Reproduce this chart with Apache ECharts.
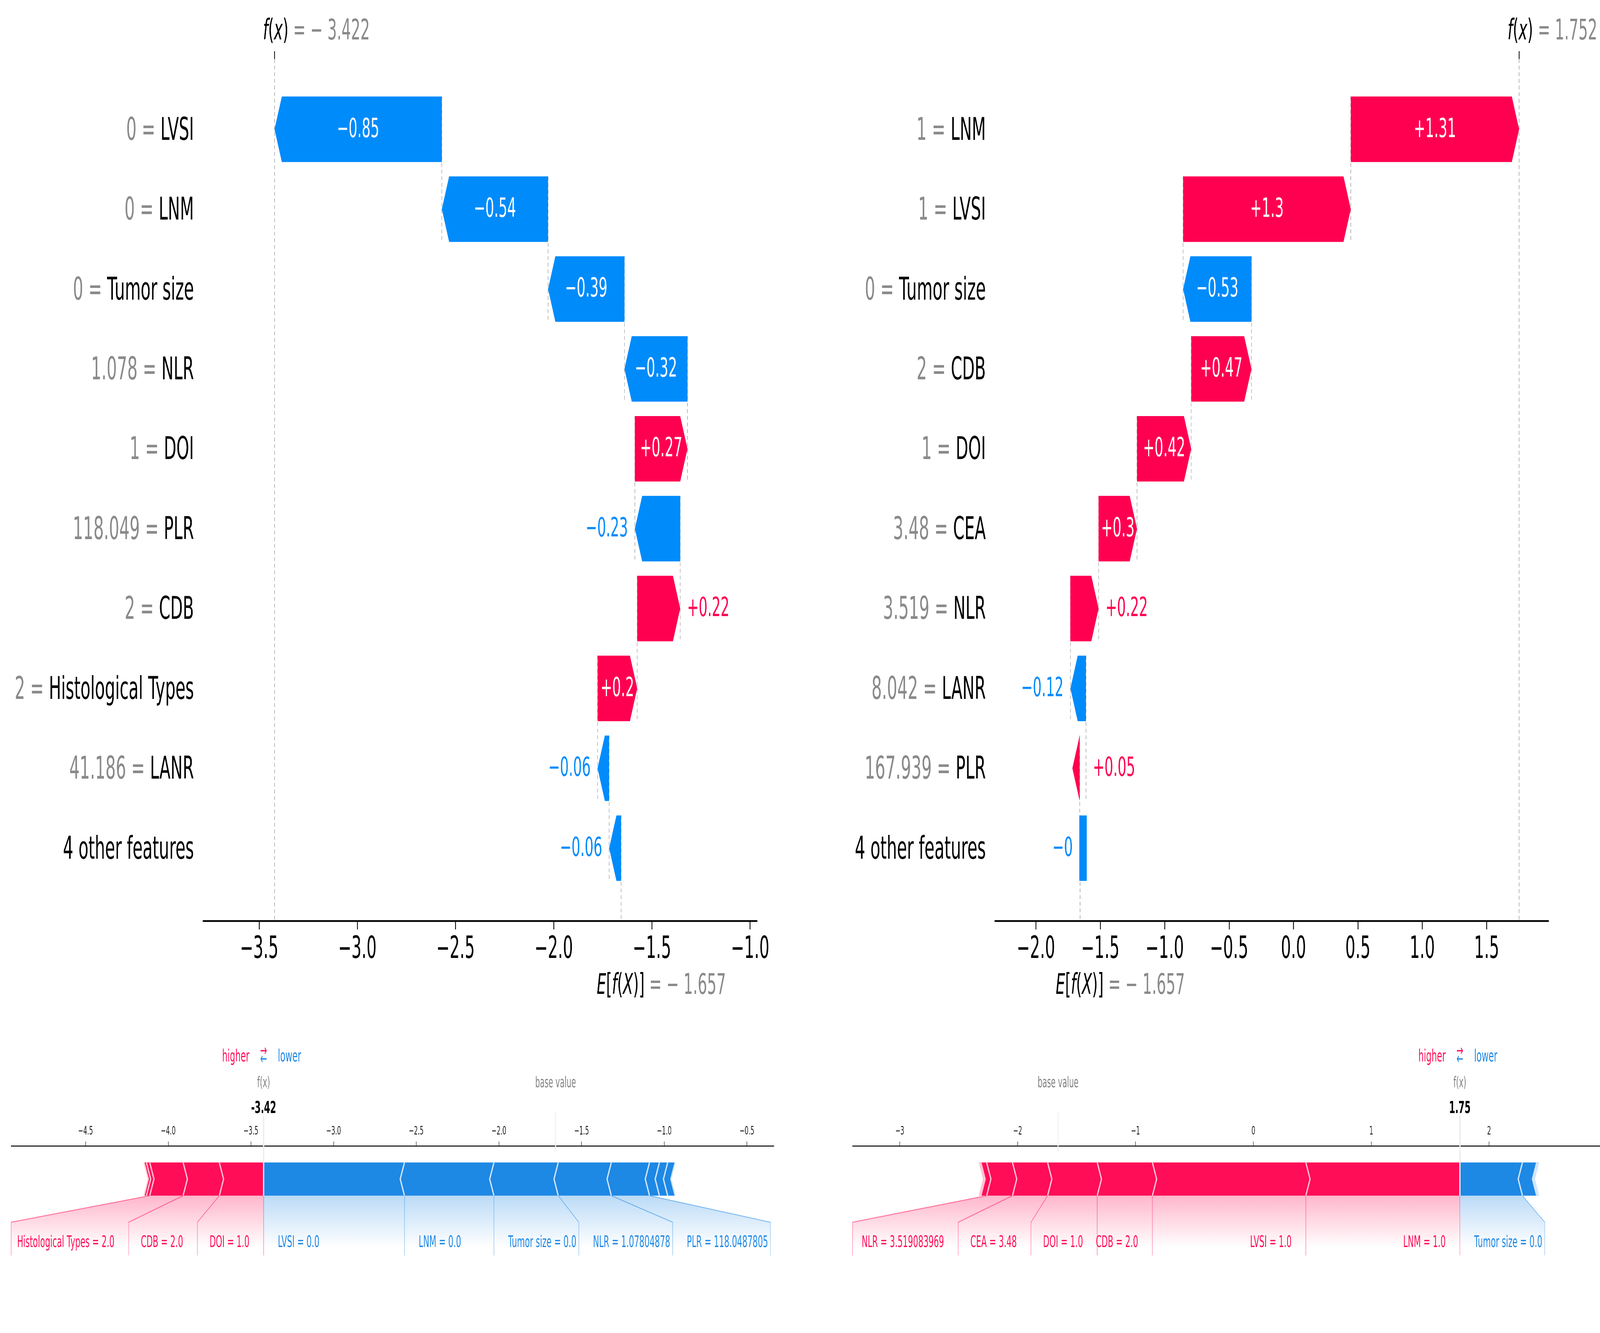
<!DOCTYPE html>
<html lang="en">
<head>
  <meta charset="UTF-8">
  <title>SHAP waterfall and force plots</title>
  <style>
    html, body { margin: 0; padding: 0; background: #fff; overflow: hidden; }
    #chart { width: 7888px; height: 3412px; transform-origin: 0 0; }
  </style>
</head>
<body>
  <div id="chart"></div>
  <script src="https://cdn.jsdelivr.net/npm/echarts@6.0.0/dist/echarts.min.js"></script>
  <script>
    // ---- data ----
    // waterfall, left sample (top row first)
    var wfLeftNames = ['LVSI', 'LNM', 'Tumor size', 'NLR', 'DOI', 'PLR', 'CDB', 'Histological Types', 'LANR', '4 other features'];
    var wfLeftFeat = ['0', '0', '0', '1.078', '1', '118.049', '2', '2', '41.186', ''];
    var wfLeftShap = [-0.852, -0.541, -0.389, -0.321, 0.268, -0.231, 0.219, 0.202, -0.059, -0.061];
    var wfLeftBase = -1.657;
    var wfLeftTicks = [-3.5, -3.0, -2.5, -2.0, -1.5, -1.0];

    // waterfall, right sample
    var wfRightNames = ['LNM', 'LVSI', 'Tumor size', 'CDB', 'DOI', 'CEA', 'NLR', 'LANR', 'PLR', '4 other features'];
    var wfRightFeat = ['1', '1', '0', '2', '1', '3.48', '3.519', '8.042', '167.939', ''];
    var wfRightShap = [1.307, 1.302, -0.531, 0.468, 0.421, 0.298, 0.219, -0.121, 0.049, -0.003];
    var wfRightBase = -1.657;
    var wfRightTicks = [-2.0, -1.5, -1.0, -0.5, 0.0, 0.5, 1.0, 1.5];

    // force plots: segments listed outward from f(x), '' = no label
    var fcLeftRedNames = ['DOI', 'CDB', 'Histological Types', '', ''];
    var fcLeftRedVals = ['1.0', '2.0', '2.0', '', ''];
    var fcLeftRedShap = [0.268, 0.219, 0.202, 0.02, 0.014];
    var fcLeftBlueNames = ['LVSI', 'LNM', 'Tumor size', 'NLR', 'PLR', '', '', ''];
    var fcLeftBlueVals = ['0.0', '0.0', '0.0', '1.07804878', '118.0487805', '', '', ''];
    var fcLeftBlueShap = [0.852, 0.541, 0.389, 0.321, 0.231, 0.06, 0.05, 0.045];
    var fcLeftTicks = [-4.5, -4.0, -3.5, -3.0, -2.5, -2.0, -1.5, -1.0, -0.5];

    var fcRightRedNames = ['LNM', 'LVSI', 'CDB', 'DOI', 'CEA', 'NLR', '', '', ''];
    var fcRightRedVals = ['1.0', '1.0', '2.0', '1.0', '3.48', '3.519083969', '', '', ''];
    var fcRightRedShap = [1.307, 1.302, 0.468, 0.421, 0.298, 0.219, 0.049, 0.008, 0.005];
    var fcRightBlueNames = ['Tumor size', '', '', ''];
    var fcRightBlueVals = ['0.0', '', '', ''];
    var fcRightBlueShap = [0.531, 0.121, 0.01, 0.006];
    var fcRightTicks = [-3, -2, -1, 0, 1, 2];
    var fcBase = -1.657;

    // ---- look ----
    var RED = '#ff0051', BLUE = '#008bfb', FRED = '#ff0d57', FBLUE = '#1e88e5';
    var FONT = 'DejaVu Sans';
    var WF_YMIN = -0.88, WF_YMAX = 9.91, HALF = 0.41, HEAD = 36;
    var FC_YMIN = -0.4, FC_YMAX = 0.15;
    var OFF = 70, RGAP = 60, BGAP = 12, TOL = 16, IND = 21;

    var mctx = document.createElement('canvas').getContext('2d');
    function textWidth(s, size, weight) {
      mctx.font = (weight || 'normal') + ' ' + size + 'px "' + FONT + '"';
      return mctx.measureText(s).width;
    }
    function minus(s) { return s.replace('-', '\u2212'); }
    function fmtShap(v) {
      var s = v.toFixed(2).replace(/0+$/, '').replace(/\.$/, '');
      return v >= 0 ? '+' + s : minus(s);
    }
    function sum(a) { return a.reduce(function (t, x) { return t + x; }, 0); }
    function vline(x, y1, y2, st) {
      return { type: 'line', shape: { x1: x, y1: y1, x2: x, y2: y2 }, style: st };
    }

    function waterfallSeries(gi, names, feat, shap, base, xMin) {
      var n = shap.length, rows = [], cum = base;
      for (var r = n - 1; r >= 0; r--) {
        rows[r] = [r, cum, cum + shap[r], shap[r]];
        cum += shap[r];
      }
      var fx = cum;
      var dash = { stroke: '#a0a0a0', lineWidth: 2.5, lineDash: [10, 7] };

      var connectors = {
        type: 'custom', xAxisIndex: gi, yAxisIndex: gi, z: 1, clip: false, silent: true, data: rows,
        renderItem: function (params, api) {
          var r = api.value(0), s = api.value(1), e = api.value(2);
          var kids = [];
          var x = api.coord([s, r])[0];
          var yEnd = r < n - 1 ? r + 1 + HALF : WF_YMAX;
          kids.push(vline(x, api.coord([s, r - HALF])[1], api.coord([s, yEnd])[1], dash));
          if (r === 0) {
            var top = api.coord([e, WF_YMIN]), bot = api.coord([e, WF_YMAX]);
            kids.push(vline(top[0], top[1], bot[1], dash));
            kids.push(vline(top[0], top[1], top[1] - 20, { stroke: '#000', lineWidth: 3.5 }));
          }
          return { type: 'group', children: kids };
        }
      };

      var bars = {
        type: 'custom', xAxisIndex: gi, yAxisIndex: gi, z: 3, clip: false, silent: true, data: rows,
        renderItem: function (params, api) {
          var r = api.value(0), s = api.value(1), e = api.value(2), v = api.value(3);
          var ps = api.coord([s, r]), pe = api.coord([e, r]);
          var hh = api.size([0, HALF])[1];
          var yt = ps[1] - hh, yb = ps[1] + hh, ym = ps[1];
          var x0 = ps[0], x1 = pe[0], w = Math.abs(x1 - x0), d = v >= 0 ? 1 : -1;
          var pts;
          if (w >= HEAD) {
            pts = [[x0, yt], [x1 - d * HEAD, yt], [x1, ym], [x1 - d * HEAD, yb], [x0, yb]];
          } else if (v >= 0) {
            // arrows shorter than the head come out flipped in the source plot
            pts = [[x0, yt], [x0, yb], [x0 - HEAD, ym]];
          } else {
            pts = [[x0 - 0.1 * HEAD, yt], [x0 + 0.9 * HEAD, yt], [x0 + 0.9 * HEAD, yb], [x0 - 0.1 * HEAD, yb]];
          }
          var txt = fmtShap(v);
          var lab;
          if (textWidth(txt, 68) * 1.11 <= w) lab = { x: (x0 + x1) / 2, align: 'center', fill: '#fff' };
          else if (v >= 0) lab = { x: x1 + 34, align: 'left', fill: RED };
          else lab = { x: x1 - 34, align: 'right', fill: BLUE };
          return {
            type: 'group', children: [
              { type: 'polygon', shape: { points: pts }, style: { fill: v >= 0 ? RED : BLUE } },
              { type: 'text', x: lab.x, y: ym + 2, style: { text: txt, fill: lab.fill, fontSize: 68, fontFamily: FONT, align: lab.align, verticalAlign: 'middle' } }
            ]
          };
        }
      };

      var labels = {
        type: 'custom', xAxisIndex: gi, yAxisIndex: gi, z: 3, clip: false, silent: true, data: rows,
        renderItem: function (params, api) {
          var r = api.value(0);
          var p = api.coord([xMin, r]);
          var t = feat[r] ? '{g|' + feat[r] + ' = }{k|' + names[r] + '}' : '{k|' + names[r] + '}';
          return {
            type: 'text', x: p[0] - 45, y: p[1] + 6,
            style: {
              text: t, align: 'right', verticalAlign: 'middle', fontSize: 80, fontFamily: FONT,
              rich: {
                g: { fill: '#8a8a8a', fontSize: 80, fontFamily: FONT },
                k: { fill: '#000', fontSize: 80, fontFamily: FONT }
              }
            }
          };
        }
      };

      var mathRich = {
        i: { fill: '#000', fontSize: 73, fontFamily: FONT, fontStyle: 'italic' },
        u: { fill: '#000', fontSize: 73, fontFamily: FONT },
        g: { fill: '#8a8a8a', fontSize: 73, fontFamily: FONT }
      };
      function numTxt(v) { return v < 0 ? '\u2212 ' + Math.abs(v).toFixed(3) : v.toFixed(3); }
      var annot = {
        type: 'custom', xAxisIndex: gi, yAxisIndex: gi, z: 3, clip: false, silent: true, data: [[fx, base]],
        renderItem: function (params, api) {
          var top = api.coord([api.value(0), WF_YMIN]);
          var bot = api.coord([api.value(1), WF_YMAX]);
          return {
            type: 'group', children: [
              { type: 'text', x: top[0] - 57, y: top[1] - 69, style: { text: '{i|f}{u|(}{i|x}{u|)}{g| = ' + numTxt(fx) + '}', rich: mathRich, align: 'left', verticalAlign: 'middle', fontSize: 73, fontFamily: FONT } },
              { type: 'text', x: bot[0] - 120, y: bot[1] + 168, style: { text: '{i|E}{u|[}{i|f}{u|(}{i|X}{u|)]}{g| = ' + numTxt(base) + '}', rich: mathRich, align: 'left', verticalAlign: 'middle', fontSize: 73, fontFamily: FONT } }
            ]
          };
        }
      };
      return [connectors, bars, labels, annot];
    }

    function forceSeries(gi, base, redNames, redVals, redShap, blueNames, blueVals, blueShap) {
      var out = base + sum(redShap) - sum(blueShap);
      return {
        type: 'custom', xAxisIndex: gi, yAxisIndex: gi, z: 2, clip: false, silent: true, data: [[out, 0]],
        renderItem: function (params, api) {
          var X = function (v) { return api.coord([v, 0])[0]; };
          var Y = function (d) { return api.coord([out, d])[1]; };
          var cs = params.coordSys, minPx = cs.x, maxPx = cs.x + cs.width;
          var outPx = X(out), y0 = Y(0), yt = Y(0.1), ym = Y(0.05), yk = Y(-0.08), yl = Y(-0.18), ys = Y(-0.2);
          var ytx = Y(-0.15) - 6;
          var shades = [], lines = [], polys = [], seps = [], texts = [];

          [true, false].forEach(function (pos) {
            var names = pos ? redNames : blueNames, vals = pos ? redVals : blueVals, shap = pos ? redShap : blueShap;
            var col = pos ? FRED : FBLUE, light = pos ? '#ffc3d5' : '#d1e6fa', rgb = pos ? '255,13,87' : '30,136,229';
            var ind = pos ? IND : -IND;
            var pre = out, bounds = [];
            for (var i = 0; i < shap.length; i++) {
              var nxt = pos ? pre - shap[i] : pre + shap[i];
              var lb = X(Math.min(pre, nxt)), rb = X(Math.max(pre, nxt));
              var pts;
              if (i === 0) {
                pts = pos ? [[lb, y0], [rb, y0], [rb, yt], [lb, yt], [lb + ind, ym]]
                          : [[rb, y0], [lb, y0], [lb, yt], [rb, yt], [rb + ind, ym]];
              } else {
                pts = [[lb, y0], [rb, y0], [rb + ind * 0.9, ym], [rb, yt], [lb, yt], [lb + ind * 0.9, ym]];
              }
              polys.push({ type: 'polygon', shape: { points: pts }, style: { fill: col } });
              var sp = pos ? lb : rb;
              seps.push({ type: 'polyline', shape: { points: [[sp, y0], [sp + ind, ym], [sp, yt]] }, style: { stroke: light, lineWidth: 6, fill: 'none' } });
              bounds.push(X(nxt));
              pre = nxt;
            }

            // labels under the bar
            var lst = { stroke: 'rgba(' + rgb + ',0.5)', lineWidth: 2.5, fill: 'none' };
            var start = outPx, prePx = outPx, boxEnd = outPx;
            if (pos) lines.push({ type: 'polyline', shape: { points: [[outPx, y0], [outPx, yl]] }, style: lst });
            for (var j = 0; j < shap.length; j++) {
              if (!names[j]) continue;
              var txt = names[j] + ' = ' + vals[j], tw = textWidth(txt, 40), vp = bounds[j], pts2;
              if (pos) {
                var xr = start - OFF;
                texts.push({ type: 'text', x: xr, y: ytx, style: { text: txt, fill: col, fontSize: 40, fontFamily: FONT, align: 'right', verticalAlign: 'middle' } });
                if (xr - tw + TOL > vp) { pts2 = [[vp, y0], [vp, yl]]; boxEnd = vp; }
                else { boxEnd = Math.max(xr - tw - RGAP, minPx); pts2 = [[vp, y0], [boxEnd, yk], [boxEnd, yl]]; }
              } else {
                var xl = start + OFF;
                texts.push({ type: 'text', x: xl, y: ytx, style: { text: txt, fill: col, fontSize: 40, fontFamily: FONT, align: 'left', verticalAlign: 'middle' } });
                if (xl + tw - TOL < vp) { pts2 = [[vp, y0], [vp, yl]]; boxEnd = vp; }
                else { boxEnd = Math.min(xl + tw + BGAP, maxPx); pts2 = [[vp, y0], [boxEnd, yk], [boxEnd, yl]]; }
              }
              lines.push({ type: 'polyline', shape: { points: pts2 }, style: lst });
              start = boxEnd;
              prePx = vp;
            }
            shades.push({
              type: 'polygon',
              shape: { points: [[outPx, y0], [prePx, y0], [boxEnd, yk], [boxEnd, ys], [outPx, ys]] },
              style: {
                fill: new echarts.graphic.LinearGradient(0, 0, 0, 1, [
                  { offset: 0, color: 'rgba(' + rgb + ',0.3)' },
                  { offset: 0.775, color: 'rgba(' + rgb + ',0)' },
                  { offset: 1, color: 'rgba(' + rgb + ',0)' }
                ])
              }
            });
          });

          var basePx = X(base);
          var head = [
            vline(basePx, Y(0.13), Y(0.25), { stroke: '#f2f2f2', lineWidth: 5 }),
            vline(outPx, y0, Y(0.24), { stroke: '#ececec', lineWidth: 6 }),
            { type: 'text', x: basePx, y: Y(0.33) - 7, style: { text: 'base value', fill: '#808080', fontSize: 37, fontFamily: FONT, align: 'center', verticalAlign: 'middle' } },
            { type: 'text', x: outPx, y: Y(0.33) - 7, style: { text: 'f(x)', fill: '#808080', fontSize: 37, fontFamily: FONT, align: 'center', verticalAlign: 'middle' } },
            { type: 'text', x: outPx, y: Y(0.25) - 10, style: { text: out.toFixed(2), fill: '#000', fontSize: 43, fontWeight: 'bold', fontFamily: FONT, align: 'center', verticalAlign: 'middle' } },
            { type: 'text', x: outPx - OFF, y: Y(0.405) - 10, style: { text: 'higher', fill: FRED, fontSize: 42, fontFamily: FONT, align: 'right', verticalAlign: 'middle' } },
            { type: 'text', x: outPx + OFF, y: Y(0.405) - 10, style: { text: 'lower', fill: FBLUE, fontSize: 42, fontFamily: FONT, align: 'left', verticalAlign: 'middle' } },
            { type: 'text', x: outPx, y: Y(0.425) - 8, style: { text: '\u2192', fill: FRED, fontSize: 40, fontFamily: FONT, align: 'center', verticalAlign: 'middle' } },
            { type: 'text', x: outPx, y: Y(0.4) - 8, style: { text: '\u2190', fill: FBLUE, fontSize: 40, fontFamily: FONT, align: 'center', verticalAlign: 'middle' } }
          ];
          return { type: 'group', children: shades.concat(lines, polys, seps, head, texts) };
        }
      };
    }

    function wfX(gi, min, max, ticks) {
      return {
        gridIndex: gi, type: 'value', min: min, max: max,
        axisLine: { onZero: false, lineStyle: { color: '#000', width: 4.5 } },
        axisTick: { length: 22, lineStyle: { color: '#000', width: 4 }, customValues: ticks },
        axisLabel: {
          customValues: ticks, fontSize: 78, color: '#000', margin: 36, fontFamily: FONT,
          formatter: function (v) { return minus(v.toFixed(1)); }
        },
        splitLine: { show: false }
      };
    }
    function fcX(gi, min, max, ticks, dec) {
      return {
        gridIndex: gi, type: 'value', position: 'top', min: min, max: max,
        axisLine: { onZero: false, lineStyle: { color: '#000', width: 2.5 } },
        axisTick: { inside: false, length: 11, lineStyle: { color: '#000', width: 2 }, customValues: ticks },
        axisLabel: {
          customValues: ticks, fontSize: 30, color: '#222', margin: 22, fontFamily: FONT,
          formatter: function (v) { return minus(v.toFixed(dec)); }
        },
        splitLine: { show: false }
      };
    }
    function hiddenY(gi, min, max, inverse) {
      return { gridIndex: gi, type: 'value', min: min, max: max, inverse: inverse, show: false };
    }

    // the layout is written for a 7888 x 3412 canvas; stretch the box onto whatever viewport we get
    var sx = window.innerWidth / 7888, sy = window.innerHeight / 3412;
    var dom = document.getElementById('chart');
    dom.style.transform = 'scale(' + sx + ',' + sy + ')';

    var option = {
      animation: false,
      backgroundColor: '#fff',
      textStyle: { fontFamily: FONT },
      grid: [
        { left: 1001, top: 151, width: 2731, height: 2206, containLabel: false, outerBoundsMode: 'none' },
        { left: 4905, top: 151, width: 2729, height: 2206, containLabel: false, outerBoundsMode: 'none' },
        { left: 55, top: 2933, width: 3760, height: 467.5, containLabel: false, outerBoundsMode: 'none' },
        { left: 4203, top: 2933, width: 3685, height: 467.5, containLabel: false, outerBoundsMode: 'none' }
      ],
      xAxis: [
        wfX(0, -3.786, -0.965, wfLeftTicks),
        wfX(1, -2.318, 1.980, wfRightTicks),
        fcX(2, -4.950, -0.337, fcLeftTicks, 1),
        fcX(3, -3.401, 2.941, fcRightTicks, 0)
      ],
      yAxis: [
        hiddenY(0, WF_YMIN, WF_YMAX, true),
        hiddenY(1, WF_YMIN, WF_YMAX, true),
        hiddenY(2, FC_YMIN, FC_YMAX, false),
        hiddenY(3, FC_YMIN, FC_YMAX, false)
      ],
      series: []
        .concat(waterfallSeries(0, wfLeftNames, wfLeftFeat, wfLeftShap, wfLeftBase, -3.786))
        .concat(waterfallSeries(1, wfRightNames, wfRightFeat, wfRightShap, wfRightBase, -2.318))
        .concat([
          forceSeries(2, fcBase, fcLeftRedNames, fcLeftRedVals, fcLeftRedShap, fcLeftBlueNames, fcLeftBlueVals, fcLeftBlueShap),
          forceSeries(3, fcBase, fcRightRedNames, fcRightRedVals, fcRightRedShap, fcRightBlueNames, fcRightBlueVals, fcRightBlueShap)
        ])
    };

    var myChart = echarts.init(dom, null, { devicePixelRatio: Math.max(sx, sy) * (window.devicePixelRatio || 1) });
    myChart.setOption(option);
  </script>
</body>
</html>
